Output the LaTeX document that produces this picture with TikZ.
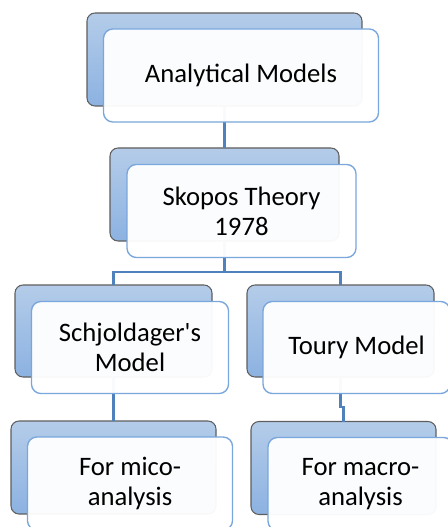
\documentclass[tikz,border=0pt]{standalone}
\usepackage{fontspec}
\setmainfont{Carlito}
\usepackage{tikz}
\definecolor{boxtop}{HTML}{B4CCE9}
\definecolor{boxbot}{HTML}{8CB2E1}
\definecolor{boxline}{HTML}{5E5E5E}
\definecolor{frontline}{HTML}{79A6DC}
\definecolor{linkblue}{HTML}{4F81BD}
\tikzset{
  backbox/.style={rounded corners=6pt, draw=boxline, line width=0.8pt,
    top color=boxtop, bottom color=boxbot, inner sep=0pt, outer sep=0pt},
  frontbox/.style={rounded corners=7pt, draw=frontline, line width=1pt,
    fill=white, fill opacity=0.96, text opacity=1, inner sep=0pt, outer sep=0pt,
    align=center, font=\fontsize{20}{22.5}\selectfont},
  link/.style={draw=linkblue, line width=1.6pt}
}

\begin{document}
\begin{tikzpicture}[x=0.75pt,y=-0.75pt]
    \useasboundingbox (0,0) rectangle (447,527);
    % back boxes
    \node[backbox, minimum width=206.25pt, minimum height=69.75pt] (ana_bg) at (224.5,59.5) {};
    \node[backbox, minimum width=171.75pt, minimum height=69.75pt] (sko_bg) at (224.5,194.5) {};
    \node[backbox, minimum width=147.75pt, minimum height=69pt] (sch_bg) at (113.5,331) {};
    \node[backbox, minimum width=140.25pt, minimum height=69pt] (tou_bg) at (340.5,331) {};
    \node[backbox, minimum width=153.75pt, minimum height=69.75pt] (mic_bg) at (113.5,467.5) {};
    \node[backbox, minimum width=138.75pt, minimum height=69.75pt] (mac_bg) at (343.5,468) {};
    % connectors
    \draw[link] (ana_bg.south) -- (sko_bg.north);
    \draw[link] (sko_bg.south) -- ++(0,31) -| (sch_bg.north);
    \draw[link] (sko_bg.south) -- ++(0,31) -| (tou_bg.north);
    \draw[link] (sch_bg.south) -- (mic_bg.north);
    \draw[link] (tou_bg.south) -- ++(0,30) -| (mac_bg.north);
    % front boxes
    \node[frontbox, minimum width=206.25pt, minimum height=69.75pt] (ana) at (241,75.5) {Analytical Models};
    \node[frontbox, minimum width=171.75pt, minimum height=69.75pt] (sko) at (241.5,211) {Skopos Theory\\1978};
    \node[frontbox, minimum width=147.75pt, minimum height=69pt] (sch) at (130,347.5) {Schjoldager\textquotesingle s\\Model};
    \node[frontbox, minimum width=140.25pt, minimum height=69pt] (tou) at (356.5,347.5) {Toury Model};
    \node[frontbox, minimum width=153.75pt, minimum height=69.75pt] (mic) at (130,483.5) {For mico-\\analysis};
    \node[frontbox, minimum width=138.75pt, minimum height=69.75pt] (mac) at (360.5,484) {For macro-\\analysis};
  \end{tikzpicture}
\end{document}
